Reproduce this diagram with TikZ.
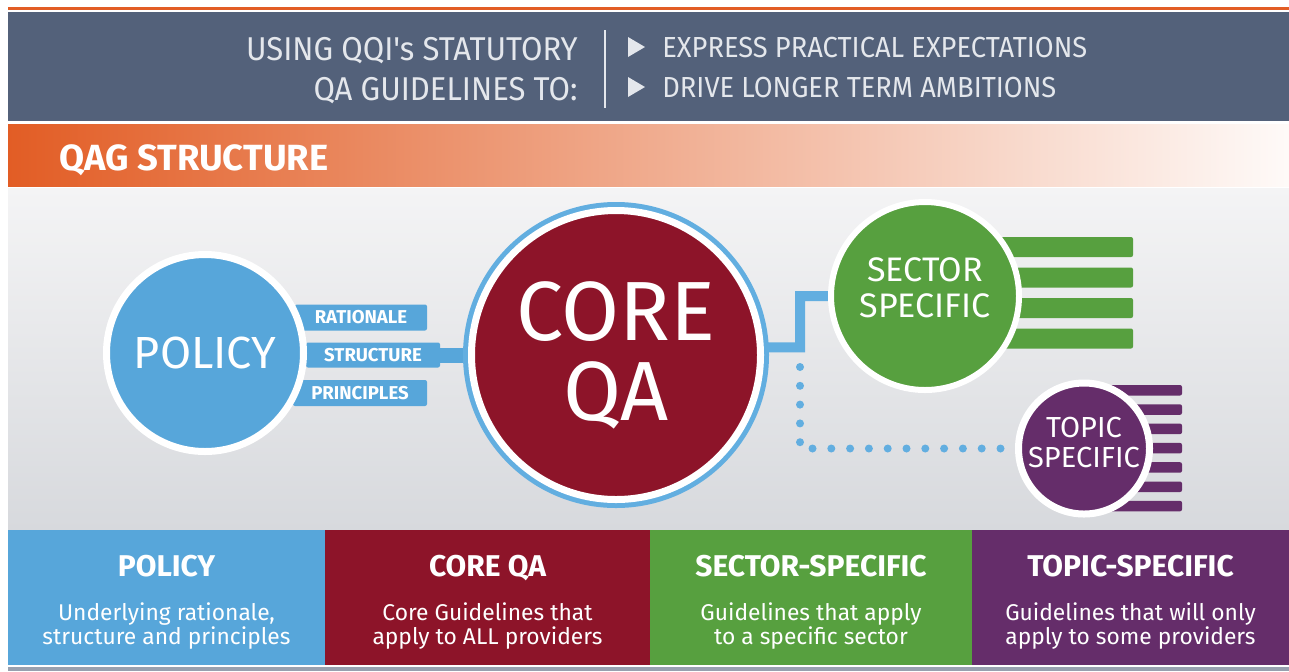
\documentclass[tikz,border=0pt]{standalone}
\usepackage{fontspec}
\setmainfont{Fira Sans}
\newfontfamily\headfont{Fira Sans}[FakeStretch=0.94]
\usetikzlibrary{positioning,calc}
\definecolor{slate}{HTML}{53617A}
\definecolor{qorange}{HTML}{E25D25}
\definecolor{qblue}{HTML}{57A6DA}
\definecolor{ringblue}{HTML}{62AEE0}
\definecolor{qred}{HTML}{8D1429}
\definecolor{qgreen}{HTML}{57A03F}
\definecolor{qpurple}{HTML}{652D6A}
\definecolor{pale}{HTML}{E4E7EC}
\definecolor{bgtop}{HTML}{F4F4F5}
\definecolor{bgbot}{HTML}{D7D9DD}
\pgfdeclarelayer{back}
\pgfsetlayers{back,main}
\begin{document}
\begin{tikzpicture}[x=0.5pt,y=-0.5pt,line join=round,
	disc/.style={circle,draw=white,line width=3.5pt,text=white,align=center,inner sep=0pt},
	disclabel/.style={text=white,align=center,inner sep=0pt},
	tag/.style={fill=qblue,text=white,font=\bfseries\fontsize{9.3}{9.3}\selectfont,inner sep=0pt,minimum height=13pt,rounded corners=1pt},
	link/.style={ringblue,line width=5pt},
	dotline/.style={ringblue,line width=4pt,line cap=round,dash pattern=on 0pt off 9.4pt},
	panel/.style={minimum height=67.5pt,inner sep=0pt,outer sep=0pt},
	paneltitle/.style={text=white,inner sep=0pt,font=\bfseries\fontsize{15}{15}\selectfont},
	paneltext/.style={text=white,inner sep=0pt,align=center,font=\fontsize{11.4}{12.2}\selectfont},
	headline/.style={text=pale,inner sep=0pt,font=\headfont\fontsize{16.5}{20}\selectfont},
	aimline/.style={text=pale,inner sep=0pt,font=\headfont\fontsize{14.5}{18}\selectfont}]
	\useasboundingbox (0,0) rectangle (1289,671);
	\begin{pgfonlayer}{back}
		\fill[qorange] (8,7) rectangle (1289,9.5);
		\fill[slate] (8,12) rectangle (1289,121);
		\shade[left color=qorange,right color=qorange!3] (8,124) rectangle (1289,186);
		\shade[top color=bgtop,bottom color=bgbot] (8,188) rectangle (1289,530);
		\fill[slate!60] (8,667) rectangle (1289,671);
	\end{pgfonlayer}
	% header
	\node[headline,anchor=base east] (using) at (578,60) {USING QQI's STATUTORY};
	\node[headline,anchor=base east] (guide) at (578,100) {QA GUIDELINES TO:};
	\draw[pale,line width=0.8pt] (605,30) -- (605,108);
	\node[aimline,anchor=base west] (expr) at (662,57) {EXPRESS PRACTICAL EXPECTATIONS};
	\node[aimline,anchor=base west] (drive) at (662,97) {DRIVE LONGER TERM AMBITIONS};
	\foreach \n in {expr,drive}
	{
		\fill[pale] ($(\n.base west)+(-34,-20)$) -- ++(17,10) -- ++(-17,10) -- cycle;
	}
	\node[anchor=base west,inner sep=0pt,text=white,font=\bfseries\fontsize{18.2}{18.2}\selectfont] (qag) at (59,170) {QAG STRUCTURE};
	% circles
	\node[tag,minimum width=66pt] (rationale) at (361,317.5) {RATIONALE};
	\node[tag,minimum width=67pt,minimum height=12.5pt] (structure) at (373,355) {STRUCTURE};
	\node[tag,minimum width=67pt] (principles) at (360,393) {PRINCIPLES};
	\node[disc,fill=qblue,minimum size=98.5pt,font=\fontsize{22.5}{22.5}\selectfont] (policy) at (205,353) {POLICY};
	\node[disc,fill=qred,minimum size=144.5pt,preaction={draw=ringblue,line width=8.5pt},font=\fontsize{42}{40}\selectfont] (core) at (616,355) {CORE\\QA};
	\node[disc,fill=qgreen,line width=3pt,minimum size=94pt] (sector) at (925,296) {};
	\node[disclabel,font=\fontsize{17}{18}\selectfont] (sectorlabel) at ([yshift=4pt]sector.center) {SECTOR\\SPECIFIC};
	\node[disc,fill=qpurple,minimum size=65.5pt] (topic) at (1084,448.5) {};
	\node[disclabel,font=\fontsize{14.5}{15}\selectfont] (topiclabel) at ([yshift=3pt]topic.center) {TOPIC\\SPECIFIC};
	\coordinate (elbow) at (800,347.4);
	\coordinate (dotstart) at (800,367);
	\begin{pgfonlayer}{back}
		\foreach \y in {0,...,3}
		{
			\fill[qgreen,rounded corners=1pt] (990,{237+30.5*\y}) rectangle (1133,{257+30.5*\y});
		}
		\foreach \y in {0,...,6}
		{
			\fill[qpurple,rounded corners=1pt] (1110,{385+19.3*\y}) rectangle (1182,{395.5+19.3*\y});
		}
		\draw[link] (core.3) -- (elbow) |- (sector.west);
		\draw[dotline] (dotstart) |- (topic.west);
		\draw[qblue,line width=7.5pt] (structure.east) -- (core.west);
	\end{pgfonlayer}
	% panels
	\foreach \id/\col/\px/\pw/\head/\desc in {
		pol/qblue/166.5/158.5/POLICY/{Underlying rationale,\\structure and principles},
		cqa/qred/487.5/162.5/CORE QA/{Core Guidelines that\\apply to ALL providers},
		sec/qgreen/811/161/SECTOR-SPECIFIC/{Guidelines that apply\\to a specific sector},
		top/qpurple/1130.5/158.5/TOPIC-SPECIFIC/{Guidelines that will only\\apply to some providers}}
	{
		\node[panel,fill=\col,minimum width=\pw pt] (\id panel) at (\px,597.5) {};
		\node[paneltitle,anchor=base] (\id title) at ($(\id panel.north)+(0,46)$) {\head};
		\node[paneltext,anchor=north] (\id text) at ($(\id panel.north)+(0,72)$) {\desc};
	}
\end{tikzpicture}
\end{document}
